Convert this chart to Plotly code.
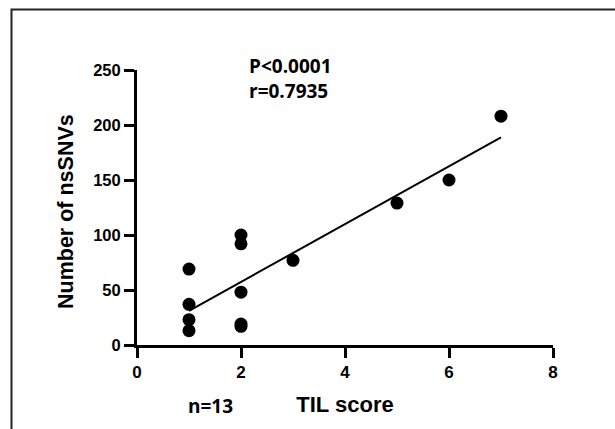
import numpy as np
import plotly.graph_objects as go

# ---- data ----
til_score = [1, 1, 1, 1, 2, 2, 2, 2, 2, 3, 5, 6, 7]
nssnv_count = [69, 37, 23, 13, 100, 92, 48, 19, 17, 77, 129, 150, 208]

x_ticks = [0, 2, 4, 6, 8]
y_ticks = [0, 50, 100, 150, 200, 250]

x_title = "TIL score"
y_title = "Number of nsSNVs"
p_text = "P<0.0001"
r_text = "r=0.7935"
n_text = "n=13"

# ---- linear fit ----
slope, intercept = np.polyfit(til_score, nssnv_count, 1)
fit_x = [min(til_score), max(til_score)]
fit_y = [slope * v + intercept for v in fit_x]

AX_FONT = dict(family="Liberation Sans, Arial, sans-serif", color="black", weight=900)
NOTE_FONT = dict(family="Open Sans, sans-serif", color="black", size=19, weight="bold")

fig = go.Figure()
fig.add_trace(go.Scatter(
    x=fit_x, y=fit_y, mode="lines",
    line=dict(color="black", width=2), showlegend=False, hoverinfo="skip"))
fig.add_trace(go.Scatter(
    x=til_score, y=nssnv_count, mode="markers",
    marker=dict(color="black", size=13), showlegend=False, cliponaxis=False))

fig.update_layout(
    width=615, height=429,
    margin=dict(l=137, r=62, t=70, b=84),
    paper_bgcolor="white", plot_bgcolor="white",
    xaxis=dict(
        range=[0, 8], tickvals=x_ticks, ticktext=[f"<b>{v}</b>" for v in x_ticks],
        showgrid=False, zeroline=False,
        showline=True, linecolor="black", linewidth=3,
        ticks="outside", ticklen=10, tickwidth=3, tickcolor="black",
        tickfont=dict(size=17, **AX_FONT),
        title=dict(text=f"<b>{x_title}</b>", font=dict(size=22, **AX_FONT), standoff=16),
    ),
    yaxis=dict(
        range=[0, 250], tickvals=y_ticks, ticktext=[f"<b>{v}</b>" for v in y_ticks],
        showgrid=False, zeroline=False,
        showline=True, linecolor="black", linewidth=3,
        ticks="outside", ticklen=10, tickwidth=3, tickcolor="black",
        tickfont=dict(size=16.5, **AX_FONT),
    ),
    shapes=[dict(
        type="rect", xref="paper", yref="paper",
        x0=(11.5 - 137) / 416, x1=1.6, y0=-0.6, y1=(345 - 9.5) / 275,
        line=dict(color="#222", width=2), fillcolor="rgba(0,0,0,0)", layer="below")],
    annotations=[
        dict(x=(66 - 137) / 416, y=(345 - 212) / 275, xref="paper", yref="paper",
             text=f"<b>{y_title}</b>", textangle=-90, showarrow=False,
             xanchor="center", yanchor="middle", font=dict(size=21.5, **AX_FONT)),
        dict(x=0.264, y=1.013, xref="paper", yref="paper", text=f"<b>{p_text}</b>",
             showarrow=False, xanchor="left", yanchor="middle", font=NOTE_FONT),
        dict(x=0.264, y=0.925, xref="paper", yref="paper", text=f"<b>{r_text}</b>",
             showarrow=False, xanchor="left", yanchor="middle", font=NOTE_FONT),
        dict(x=0.177, y=-0.222, xref="paper", yref="paper", text=f"<b>{n_text}</b>",
             showarrow=False, xanchor="center", yanchor="middle", font=NOTE_FONT),
    ],
)

fig.write_html("out.html")
